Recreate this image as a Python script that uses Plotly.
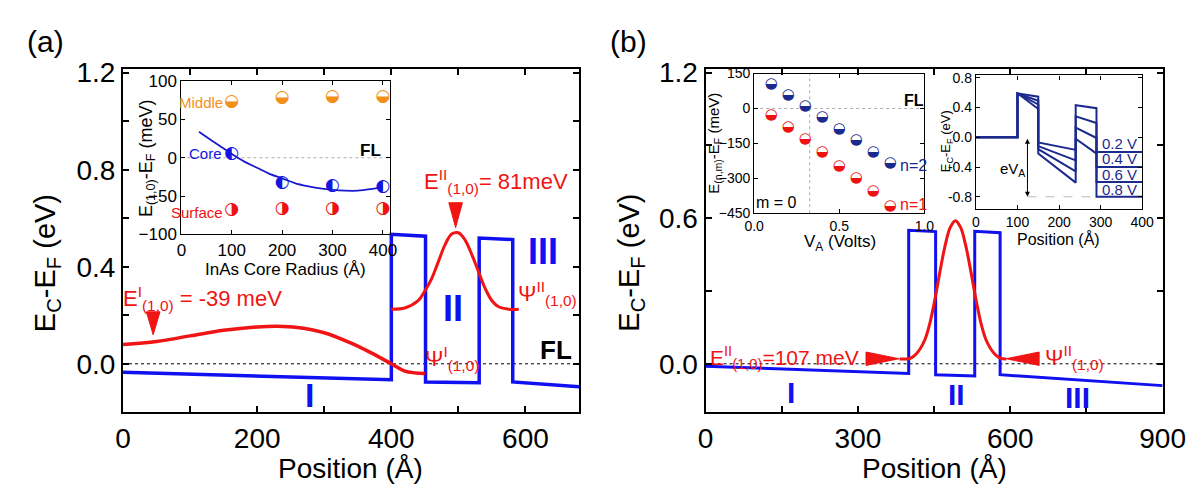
import plotly.graph_objects as go

W, H = 1200, 488
def px(x): return x / W
def py(y): return 1 - y / H

FONT = "Liberation Sans, Arial, sans-serif"
BLUE = "#1010f0"
RED = "#f01414"
ORANGE = "#f39019"
NAVY = "#1b2a8c"

# ---------------- data ----------------
# panel (a): conduction band and wavefunctions
band_a_x = [0, 400, 400, 451, 451, 531, 531, 581, 581, 680]
band_a_y = [-0.035, -0.066, 0.534, 0.526, -0.075, -0.078, 0.518, 0.512, -0.075, -0.095]
psi1_a_x = [0, 50, 100, 150, 200, 230, 260, 300, 340, 370, 400, 420, 450]
psi1_a_y = [0.08, 0.092, 0.115, 0.138, 0.152, 0.155, 0.15, 0.128, 0.085, 0.045, 0.0, -0.03, -0.04]
psi2_a_x = [400, 420, 440, 450, 460, 470, 480, 490, 500, 510, 520, 530, 540, 550, 560, 575, 590]
psi2_a_y = [0.225, 0.23, 0.26, 0.30, 0.35, 0.42, 0.49, 0.535, 0.54, 0.51, 0.45, 0.38, 0.31, 0.26, 0.235, 0.225, 0.225]

# panel (b)
band_b_x = [0, 400, 400, 453, 453, 530, 530, 580, 580, 900]
band_b_y = [-0.01, -0.04, 0.55, 0.545, -0.045, -0.05, 0.546, 0.54, -0.045, -0.09]
psi_b_x = [382, 402, 412, 422, 432, 442, 452, 462, 472, 482, 492, 502, 512, 522, 532, 542, 552, 562, 572, 582, 592]
psi_b_y = [0.02, 0.022, 0.035, 0.06, 0.10, 0.17, 0.27, 0.385, 0.49, 0.563, 0.59, 0.563, 0.49, 0.385, 0.27,
           0.17, 0.10, 0.06, 0.035, 0.022, 0.02]

# inset (a): energies vs InAs core radius
radius = [100, 200, 300, 400]
e_middle = [73, 79, 79.5, 80]
e_core = [5, -33, -36, -38]
e_surface = [-68, -66, -66, -66]
fit_r = [35, 50, 75, 100, 125, 150, 175, 200, 225, 250, 275, 300, 325, 350, 375, 400]
fit_e = [34, 27, 16, 5, -5, -13, -21, -27, -33, -37, -40, -42, -43, -43, -41, -38]

# inset (b) left: energies vs applied voltage
va = [0.1, 0.2, 0.3, 0.4, 0.5, 0.6, 0.7, 0.8]
e_n2 = [106, 57, 9, -38, -89, -137, -186, -236]
e_n1 = [-31, -79, -134, -187, -246, -300, -357, -420]

# inset (b) right: band profiles for several biases
prof_x = [0, 100, 100, 150, 150, 240, 240, 290, 290, 400]
prof_labels = ["0.2 V", "0.4 V", "0.6 V", "0.8 V"]
prof_y = [
    [0, 0, 0.59, 0.545, -0.07, -0.17, 0.43, 0.39, -0.2, -0.2],
    [0, 0, 0.59, 0.49, -0.12, -0.31, 0.28, 0.19, -0.4, -0.4],
    [0, 0, 0.59, 0.44, -0.16, -0.46, 0.13, -0.01, -0.6, -0.6],
    [0, 0, 0.59, 0.38, -0.22, -0.61, -0.02, -0.22, -0.8, -0.8],
]

fig = go.Figure()

# ---- panel (a) main ----
fig.add_trace(go.Scatter(x=[0, 680], y=[0, 0], mode="lines",
                         line=dict(color="black", width=1, dash="dot"), xaxis="x", yaxis="y"))
fig.add_trace(go.Scatter(x=band_a_x, y=band_a_y, mode="lines",
                         line=dict(color=BLUE, width=3.5), xaxis="x", yaxis="y"))
fig.add_trace(go.Scatter(x=psi1_a_x, y=psi1_a_y, mode="lines", line_shape="spline",
                         line=dict(color=RED, width=3.5), xaxis="x", yaxis="y"))
fig.add_trace(go.Scatter(x=psi2_a_x, y=psi2_a_y, mode="lines", line_shape="spline",
                         line=dict(color=RED, width=3), xaxis="x", yaxis="y"))

# ---- panel (b) main ----
fig.add_trace(go.Scatter(x=[0, 900], y=[0, 0], mode="lines",
                         line=dict(color="black", width=1, dash="dot"), xaxis="x2", yaxis="y2"))
fig.add_trace(go.Scatter(x=band_b_x, y=band_b_y, mode="lines",
                         line=dict(color=BLUE, width=3), xaxis="x2", yaxis="y2"))
fig.add_trace(go.Scatter(x=psi_b_x, y=psi_b_y, mode="lines", line_shape="spline",
                         line=dict(color=RED, width=3), xaxis="x2", yaxis="y2"))

# ---- inset (a) ----
fig.add_trace(go.Scatter(x=[0, 415], y=[0, 0], mode="lines",
                         line=dict(color="#999999", width=0.8, dash="dot"), xaxis="x3", yaxis="y3"))
fig.add_trace(go.Scatter(x=fit_r, y=fit_e, mode="lines", line_shape="spline",
                         line=dict(color="#1a1ad0", width=1.8), xaxis="x3", yaxis="y3"))
for vals, glyph, col in [(e_middle, "◒", ORANGE), (e_core, "◐", "#1515e0"), (e_surface, "◑", "#ee1111")]:
    fig.add_trace(go.Scatter(x=radius, y=vals, mode="text", text=[glyph] * len(radius),
                             textfont=dict(family="DejaVu Sans", size=17, color=col),
                             xaxis="x3", yaxis="y3"))

# ---- inset (b) left ----
fig.add_trace(go.Scatter(x=[0, 1], y=[0, 0], mode="lines",
                         line=dict(color="#999999", width=0.8, dash="dot"), xaxis="x4", yaxis="y4"))
fig.add_trace(go.Scatter(x=[0.326, 0.326], y=[-450, 150], mode="lines",
                         line=dict(color="#999999", width=0.8, dash="dot"), xaxis="x4", yaxis="y4"))
fig.add_trace(go.Scatter(x=va, y=e_n2, mode="text", text=["◒"] * len(va),
                         textfont=dict(family="DejaVu Sans", size=15, color=NAVY), xaxis="x4", yaxis="y4"))
fig.add_trace(go.Scatter(x=va, y=e_n1, mode="text", text=["◒"] * len(va),
                         textfont=dict(family="DejaVu Sans", size=15, color="#ee1111"), xaxis="x4", yaxis="y4"))

# ---- inset (b) right ----
fig.add_trace(go.Scatter(x=[124, 296], y=[-0.8, -0.8], mode="lines",
                         line=dict(color="#aaaaaa", width=0.8, dash="dash"), xaxis="x5", yaxis="y5"))
for ys in prof_y:
    fig.add_trace(go.Scatter(x=prof_x, y=ys, mode="lines",
                             line=dict(color=NAVY, width=2), xaxis="x5", yaxis="y5"))

# ---------------- axes ----------------
def main_axis(**kw):
    d = dict(showline=True, linecolor="black", linewidth=2, mirror="ticks",
             ticks="inside", ticklen=6, tickwidth=1.5, tickcolor="black",
             showgrid=False, zeroline=False,
             tickfont=dict(family=FONT, size=28, color="black"))
    d.update(kw)
    return d

def inset_axis(size, **kw):
    d = dict(showline=True, linecolor="black", linewidth=1.2, mirror="ticks",
             ticks="inside", ticklen=4, tickwidth=1, tickcolor="black",
             showgrid=False, zeroline=False,
             tickfont=dict(family=FONT, size=size, color="black"))
    d.update(kw)
    return d

fig.update_layout(
    width=W, height=H, margin=dict(l=0, r=0, t=0, b=0),
    paper_bgcolor="white", plot_bgcolor="rgba(0,0,0,0)", showlegend=False,
    xaxis=main_axis(domain=[px(108), px(577)], range=[0, 680], tickvals=[0, 200, 400, 600],
                    minor=dict(dtick=100, ticks="inside", ticklen=6, tickcolor="black"), anchor="y"),
    yaxis=main_axis(domain=[py(411), py(52)], range=[-0.2, 1.216], tickvals=[0, 0.4, 0.8, 1.2],
                    ticktext=["0.0", "0.4", "0.8", "1.2"],
                    minor=dict(dtick=0.2, ticks="inside", ticklen=6, tickcolor="black"), anchor="x"),
    xaxis2=main_axis(domain=[px(707), px(1177)], range=[0, 900], tickvals=[0, 300, 600, 900],
                     minor=dict(dtick=150, ticks="inside", ticklen=6, tickcolor="black"), anchor="y2"),
    yaxis2=main_axis(domain=[py(411), py(52)], range=[-0.2, 1.216], tickvals=[0, 0.6, 1.2],
                     ticktext=["0.0", "0.6", "1.2"],
                     minor=dict(dtick=0.3, ticks="inside", ticklen=6, tickcolor="black"), anchor="x2"),
    xaxis3=inset_axis(17, domain=[px(168), px(383)], range=[0, 415], tickvals=[0, 100, 200, 300, 400],
                      ticklabelstandoff=0, anchor="y3"),
    yaxis3=inset_axis(17, domain=[py(225), py(65)], range=[-100, 100], tickvals=[-100, -50, 0, 50, 100],
                      ticklabelstandoff=0, anchor="x3"),
    xaxis4=inset_axis(14, domain=[px(757), px(932)], range=[0, 1.0], tickvals=[0, 0.5, 1.0],
                      ticktext=["0.0", "0.5", "1.0"], ticklabelstandoff=0, anchor="y4"),
    yaxis4=inset_axis(14, domain=[py(203), py(57)], range=[-450, 150], tickvals=[-450, -300, -150, 0, 150],
                      ticklabelstandoff=0, anchor="x4"),
    xaxis5=inset_axis(14, domain=[px(985), px(1156)], range=[0, 400], tickvals=[0, 100, 200, 300, 400],
                      ticklabelstandoff=0, anchor="y5"),
    yaxis5=inset_axis(14, domain=[py(199), py(59)], range=[-0.97, 0.83], tickvals=[-0.8, -0.4, 0, 0.4, 0.8],
                      ticktext=["-0.8", "-0.4", "0.0", "0.4", "0.8"], ticklabelstandoff=0, anchor="x5"),
)

ann = []
def A(x, y, text, size, color="black", xa="center", ya="middle", angle=0, bold=False):
    if bold:
        text = "<b>" + text + "</b>"
    ann.append(dict(x=px(x), y=py(y), xref="paper", yref="paper", text=text, showarrow=False,
                    xanchor=xa, yanchor=ya, textangle=angle,
                    font=dict(family=FONT, size=size, color=color)))

# panel labels and main titles
A(28, 24, "(a)", 30)
A(628, 24, "(b)", 30)
A(30, 255, "E<sub>C</sub>-E<sub>F</sub> (eV)", 29, angle=-90)
A(630, 255, "E<sub>C</sub>-E<sub>F</sub> (eV)", 29, angle=-90)
A(342, 470, "Position (Å)", 28)
A(942, 470, "Position (Å)", 28)

# panel (a) labels
A(106, 292, "E<sup>I</sup><sub>(1,0)</sub> = -39 meV", 22, RED, xa="left")
A(415, 170, "E<sup>II</sup><sub>(1,0)</sub>= 81meV", 22, RED, xa="left")
A(512, 287, "Ψ<sup>II</sup><sub>(1,0)</sub>", 22, RED, xa="left")
A(416, 355, "Ψ<sup>I</sup><sub>(1,0)</sub>", 22, RED, xa="left")
A(447, 302, "II", 36, BLUE, bold=True)
A(540, 243, "III", 36, BLUE, bold=True)
A(300, 393, "I", 34, BLUE, bold=True)
A(553, 346, "FL", 26, bold=True)

# panel (b) labels
A(709, 354, "E<sup>II</sup><sub>(1,0)</sub>=107 meV", 21, RED, xa="left")
A(1054, 354, "Ψ<sup>II</sup><sub>(1,0)</sub>", 22, RED, xa="left")
A(795, 390, "I", 30, BLUE, bold=True)
A(965, 392, "II", 30, BLUE, bold=True)
A(1089, 396, "III", 30, BLUE, bold=True)

# inset (a) texts
A(190, 262, "InAs Core Radius (Å)", 17, xa="left")
A(133, 145, "E<sub>(1,0)</sub>-E<sub>F</sub> (meV)", 18, angle=-90)
A(213, 87, "Middle", 15, ORANGE, xa="right")
A(212, 141, "Core", 15, "#1515e0", xa="right")
A(213, 202, "Surface", 15, "#ee1111", xa="right")
A(362, 137, "FL", 17, bold=True)

# inset (b) left texts
A(845, 234, "V<sub>A</sub> (Volts)", 17)
A(716, 130, "E<sub>(n,m)</sub>-E<sub>F</sub> (meV)", 15, angle=-90)
A(921, 85, "FL", 16, bold=True)
A(905, 153, "n=2", 16, NAVY, xa="left")
A(905, 194, "n=1", 16, "#ee1111", xa="left")
A(780, 192, "m = 0", 16)

# inset (b) right texts
A(1070, 230, "Position (Å)", 16)
A(955, 128, "E<sub>C</sub>-E<sub>F</sub> (eV)", 13, angle=-90)
A(1023, 157, "eV<sub>A</sub>", 15)
for lab, yy in zip(prof_labels, [130, 146, 162, 178]):
    A(1113, yy, lab, 15, NAVY, xa="left")

fig.update_layout(annotations=ann)

# arrows (filled triangles) and the double arrow
def tri(tipx, tipy, d, w, h, color):
    if d == "down":
        pts = [(tipx - w / 2, tipy - h), (tipx + w / 2, tipy - h), (tipx, tipy)]
    elif d == "right":
        pts = [(tipx - h, tipy - w / 2), (tipx - h, tipy + w / 2), (tipx, tipy)]
    else:
        pts = [(tipx + h, tipy - w / 2), (tipx + h, tipy + w / 2), (tipx, tipy)]
    path = "M " + " L ".join(f"{px(a):.5f},{py(b):.5f}" for a, b in pts) + " Z"
    return dict(type="path", path=path, xref="paper", yref="paper",
                fillcolor=color, line=dict(color=color, width=1))

shapes = [
    tri(450, 218, "down", 14, 26, RED),
    tri(139, 330, "down", 14, 24, RED),
    tri(906, 355, "right", 14, 34, RED),
    tri(1016, 355, "left", 14, 34, RED),
]
fig.update_layout(shapes=shapes)
fig.add_annotation(x=124, y=-0.8, ax=124, ay=0, xref="x5", yref="y5", axref="x5", ayref="y5",
                   showarrow=True, arrowhead=2, arrowside="end+start", arrowsize=1, arrowwidth=1,
                   arrowcolor="black", text="")

fig.write_html("out.html")
